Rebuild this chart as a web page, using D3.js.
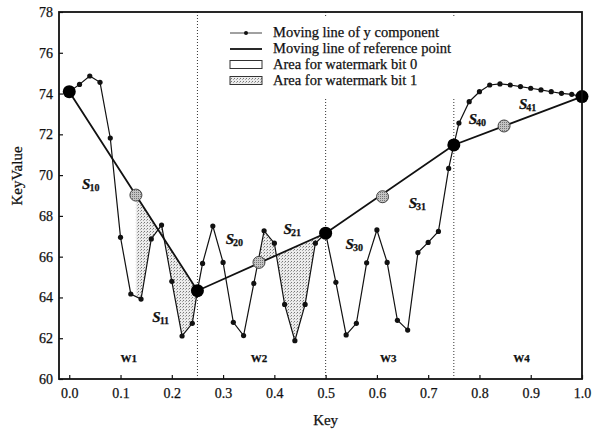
<!DOCTYPE html>
<html>
<head>
<meta charset="utf-8">
<script src="https://cdn.jsdelivr.net/npm/d3@7"></script>
<style>
body{margin:0;background:#fff}
svg{display:block}
text{font-family:"Liberation Serif","Times New Roman",serif;fill:#111;stroke:#111;stroke-width:0.25px}
</style>
</head>
<body>
<div id="chart"></div>
<script>
// moving line of y component
var compKeys = [0, 0.02, 0.04, 0.06, 0.08, 0.10, 0.12, 0.14, 0.16, 0.18, 0.20, 0.22, 0.24, 0.25,
    0.26, 0.28, 0.30, 0.32, 0.34, 0.36, 0.38, 0.40, 0.42, 0.44, 0.46, 0.48, 0.50,
    0.52, 0.54, 0.56, 0.58, 0.60, 0.62, 0.64, 0.66, 0.68, 0.70, 0.72, 0.74, 0.75,
    0.76, 0.78, 0.80, 0.82, 0.84, 0.86, 0.88, 0.90, 0.92, 0.94, 0.96, 0.98, 1.0];
var compVals = [74.09, 74.45, 74.86, 74.55, 71.82, 66.95, 64.17, 63.92, 66.87, 67.55, 64.79, 62.11, 62.73, 64.33,
    65.67, 67.50, 65.72, 62.78, 62.13, 64.69, 67.27, 66.66, 63.66, 61.88, 63.66, 66.66, 67.15,
    64.74, 62.16, 62.73, 65.70, 67.31, 65.72, 62.88, 62.40, 66.20, 66.70, 67.24, 70.33, 71.48,
    72.55, 73.60, 74.09, 74.42, 74.47, 74.42, 74.34, 74.26, 74.18, 74.09, 74.01, 73.96, 73.85];
// moving line of reference point
var refKeys = [0, 0.25, 0.5, 0.75, 1.0];
var refVals = [74.09, 64.33, 67.15, 71.48, 73.85];
// grey points on the reference line
var midKeys = [0.13, 0.37, 0.611, 0.848];
var midVals = [69.02, 65.72, 68.94, 72.41];
// areas for bit 1
var shadeFrom = [0.13, 0.37];
var shadeTo = [0.25, 0.5];
var dividers = [0.25, 0.5, 0.75];
var xTicks = [0, 0.1, 0.2, 0.3, 0.4, 0.5, 0.6, 0.7, 0.8, 0.9, 1.0];
var yTicks = [60, 62, 64, 66, 68, 70, 72, 74, 76, 78];
var wNames = ["W1", "W2", "W3", "W4"];
var wKeys = [0.116, 0.37, 0.622, 0.882];
var sNames = ["10", "11", "20", "21", "30", "31", "40", "41"];
var sKeys = [0.025, 0.162, 0.305, 0.418, 0.539, 0.662, 0.779, 0.877];
var sVals = [69.32, 62.8, 66.62, 67.11, 66.38, 68.39, 72.51, 73.24];
var legendNames = ["Moving line of y component", "Moving line of reference point",
    "Area for watermark bit 0", "Area for watermark bit 1"];

var W = 596, H = 432;
var m = {left: 59, right: 14, top: 12, bottom: 53};

var svg = d3.select("#chart").append("svg").attr("width", W).attr("height", H);
var defs = svg.append("defs");
var p1 = defs.append("pattern").attr("id", "stip").attr("width", 3).attr("height", 3)
    .attr("patternUnits", "userSpaceOnUse");
p1.append("rect").attr("width", 3).attr("height", 3).attr("fill", "#ececec");
p1.append("rect").attr("width", 1).attr("height", 1).attr("fill", "#777");
p1.append("rect").attr("x", 2).attr("y", 1).attr("width", 1).attr("height", 1).attr("fill", "#aaa");
var p2 = defs.append("pattern").attr("id", "gdot").attr("width", 2).attr("height", 2)
    .attr("patternUnits", "userSpaceOnUse");
p2.append("rect").attr("width", 2).attr("height", 2).attr("fill", "#c4c4c4");
p2.append("rect").attr("width", 1).attr("height", 1).attr("fill", "#777");

var x = d3.scaleLinear().domain([-0.02, 1.0]).range([m.left, W - m.right]);
var y = d3.scaleLinear().domain([60, 78]).range([H - m.bottom, m.top]);
var comp = d3.scaleLinear().domain(compKeys).range(compVals);
var ref = d3.scaleLinear().domain(refKeys).range(refVals);

var g = svg.append("g");

// dotted window dividers
g.selectAll(".div").data(dividers).enter().append("line")
    .attr("x1", function (d) { return x(d); }).attr("x2", function (d) { return x(d); })
    .attr("y1", y(78)).attr("y2", y(60))
    .attr("stroke", "#333").attr("stroke-width", 1).attr("stroke-dasharray", "1,2");

// shaded areas between the two lines
var area = d3.area()
    .x(function (d) { return x(d); })
    .y0(function (d) { return y(ref(d)); })
    .y1(function (d) { return y(comp(d)); });
shadeFrom.forEach(function (a, i) {
    var b = shadeTo[i];
    var pts = [a].concat(compKeys.filter(function (k) { return k > a && k <= b; }));
    g.append("path").attr("d", area(pts)).attr("fill", "url(#stip)").attr("stroke", "none");
});

// y component line
var compData = compKeys.map(function (k, i) { return [k, compVals[i]]; });
var line = d3.line().x(function (d) { return x(d[0]); }).y(function (d) { return y(d[1]); });
g.append("path").attr("d", line(compData)).attr("fill", "none").attr("stroke", "#111").attr("stroke-width", 1.2);
g.selectAll(".sd").data(compData).enter().append("circle")
    .attr("cx", function (d) { return x(d[0]); }).attr("cy", function (d) { return y(d[1]); })
    .attr("r", 2.6).attr("fill", "#111");

// reference line
var refData = refKeys.map(function (k, i) { return [k, refVals[i]]; });
g.append("path").attr("d", line(refData)).attr("fill", "none").attr("stroke", "#111").attr("stroke-width", 1.8);
g.selectAll(".md").data(midKeys).enter().append("circle")
    .attr("cx", function (d) { return x(d); }).attr("cy", function (d, i) { return y(midVals[i]); })
    .attr("r", 6).attr("fill", "url(#gdot)").attr("stroke", "#444").attr("stroke-width", 1);
g.selectAll(".bd").data(refData).enter().append("circle")
    .attr("cx", function (d) { return x(d[0]); }).attr("cy", function (d) { return y(d[1]); })
    .attr("r", 6.5).attr("fill", "#000");

// window labels
g.selectAll(".wl").data(wNames).enter().append("text")
    .attr("x", function (d, i) { return x(wKeys[i]); }).attr("y", y(60.85))
    .attr("text-anchor", "middle").attr("font-size", "11px").attr("font-weight", "bold")
    .text(function (d) { return d; });

// S labels
var sl = g.selectAll(".sl").data(sNames).enter().append("text")
    .attr("x", function (d, i) { return x(sKeys[i]); }).attr("y", function (d, i) { return y(sVals[i]); })
    .attr("font-weight", "bold").attr("font-style", "italic");
sl.append("tspan").attr("font-size", "15px").text("S");
sl.append("tspan").attr("font-size", "10px").attr("dy", 2).attr("dx", -1).attr("font-style", "normal")
    .text(function (d) { return d; });

// axes
var xAxis = g.append("g").attr("transform", "translate(0," + y(60) + ")")
    .call(d3.axisBottom(x).tickValues(xTicks).tickSize(-4).tickPadding(9).tickFormat(d3.format(".1f")));
var yAxis = g.append("g").attr("transform", "translate(" + m.left + ",0)")
    .call(d3.axisLeft(y).tickValues(yTicks).tickSize(-4).tickPadding(6).tickFormat(d3.format("d")));
[xAxis, yAxis].forEach(function (a) {
    a.select(".domain").remove();
    a.selectAll("line").attr("stroke", "#111").attr("stroke-width", 1.2);
    a.selectAll("text").attr("font-size", "14px").attr("fill", "#111")
        .attr("font-family", "'Liberation Serif','Times New Roman',serif");
});

// frame
g.append("rect").attr("x", m.left).attr("y", m.top)
    .attr("width", W - m.left - m.right).attr("height", H - m.top - m.bottom)
    .attr("fill", "none").attr("stroke", "#111").attr("stroke-width", 1.8);

// axis titles
svg.append("text").attr("x", x(0.5)).attr("y", 425).attr("text-anchor", "middle")
    .attr("font-size", "15px").text("Key");
svg.append("text").attr("transform", "translate(22," + 176 + ") rotate(-90)")
    .attr("text-anchor", "middle").attr("font-size", "15px").text("KeyValue");

// legend
var lg = svg.append("g");
lg.append("rect").attr("x", 222).attr("y", 18).attr("width", 240).attr("height", 80).attr("fill", "#fff");
var rowY = [33, 49, 64.5, 80.5];
lg.selectAll(".lt").data(legendNames).enter().append("text")
    .attr("x", 273).attr("y", function (d, i) { return rowY[i] + 4; })
    .attr("font-size", "14.5px").text(function (d) { return d; });
lg.append("line").attr("x1", 230).attr("x2", 262).attr("y1", rowY[0]).attr("y2", rowY[0])
    .attr("stroke", "#111").attr("stroke-width", 0.8);
lg.append("circle").attr("cx", 246).attr("cy", rowY[0]).attr("r", 2).attr("fill", "#111");
lg.append("line").attr("x1", 230).attr("x2", 262).attr("y1", rowY[1]).attr("y2", rowY[1])
    .attr("stroke", "#111").attr("stroke-width", 1.8);
lg.append("rect").attr("x", 230).attr("y", rowY[2] - 4).attr("width", 32).attr("height", 8)
    .attr("fill", "#fff").attr("stroke", "#333").attr("stroke-width", 1);
lg.append("rect").attr("x", 230).attr("y", rowY[3] - 4).attr("width", 32).attr("height", 8)
    .attr("fill", "url(#stip)").attr("stroke", "#333").attr("stroke-width", 1);
</script>
</body>
</html>
